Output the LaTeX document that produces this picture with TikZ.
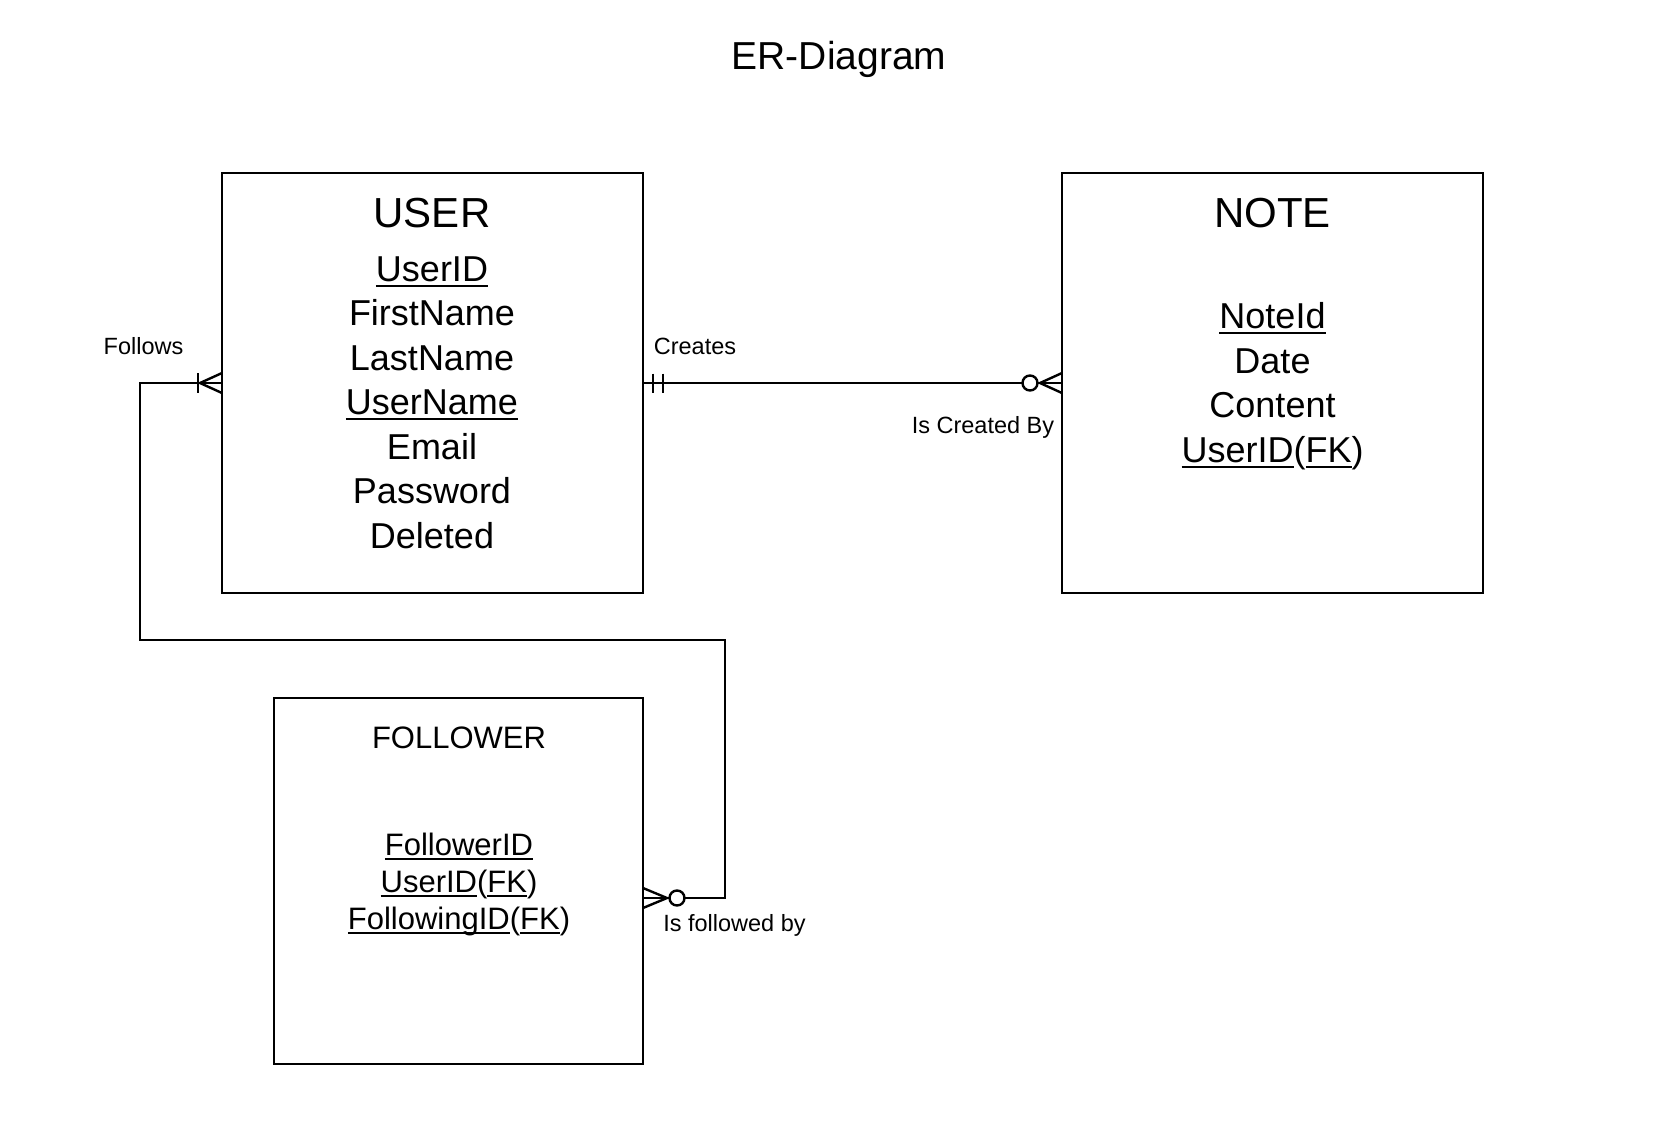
\documentclass[tikz,border=0pt]{standalone}
\usepackage{fontspec}
\setmainfont{Liberation Sans}
\newlength\myuldepth \setlength\myuldepth{3.5pt}
\newlength\myulthick \setlength\myulthick{2.1pt}
\newcommand\myul[1]{\setbox0\hbox{#1}\rlap{\rule[\dimexpr-\myuldepth-\myulthick\relax]{\wd0}{\myulthick}}\box0}
\begin{document}
\begin{tikzpicture}[x=1pt,y=-1pt,
  entity/.style={draw, line width=2.8pt, outer sep=0pt, inner sep=0pt},
  conn/.style={line width=2.4pt},
  txt/.style={anchor=base, inner sep=0pt},
  etitle/.style={txt, font=\fontsize{42}{46}\selectfont},
  attr/.style={txt, font=\fontsize{36}{40}\selectfont\setlength\myuldepth{3.5pt}\setlength\myulthick{2.2pt}},
  ftitle/.style={txt, font=\fontsize{31}{35}\selectfont},
  fattr/.style={txt, font=\fontsize{31}{35}\selectfont\setlength\myuldepth{3pt}\setlength\myulthick{2pt}},
  lbl/.style={txt, font=\fontsize{23.5}{27}\selectfont},
  ring/.style={draw, line width=2.4pt, fill=white, circle, minimum size=15pt, inner sep=0pt}
]
\useasboundingbox[fill=white] (0,0) rectangle (1674,1130);

% title
\node[txt, font=\fontsize{39}{43}\selectfont] (title) at (839,69.5) {ER-Diagram};

% entities
\node[entity, minimum width=421pt, minimum height=420pt] (user) at (432.5,383) {};
\node[entity, minimum width=421pt, minimum height=420pt] (note) at (1272.5,383) {};
\node[entity, minimum width=369pt, minimum height=366pt] (follower) at (458.5,881) {};

% USER text
\node[etitle] (utitle) at (432,227.5) {USER};
\node[attr] (u1) at (432,281) {\myul{UserID}};
\node[attr] (u2) at (432,325.5) {FirstName};
\node[attr] (u3) at (432,370) {LastName};
\node[attr] (u4) at (432,414.5) {\myul{UserName}};
\node[attr] (u5) at (432,459) {Email};
\node[attr] (u6) at (432,503.5) {Password};
\node[attr] (u7) at (432,548) {Deleted};

% NOTE text
\node[etitle] (ntitle) at (1272.5,227.5) {NOTE};
\node[attr] (n1) at (1272.5,328) {\myul{NoteId}};
\node[attr] (n2) at (1272.5,373) {Date};
\node[attr] (n3) at (1272.5,417.5) {Content};
\node[attr] (n4) at (1272.5,462.5) {\myul{UserID}(\myul{FK})};

% FOLLOWER text
\node[ftitle] (ftitle) at (459,748) {FOLLOWER};
\node[fattr] (f1) at (459,855) {\myul{FollowerID}};
\node[fattr] (f2) at (459,892) {\myul{UserID}(\myul{FK})};
\node[fattr] (f3) at (459,929) {\myul{FollowingID}(\myul{FK})};

% labels
\node[lbl] (lfollows) at (143.5,354.5) {Follows};
\node[lbl] (lcreates) at (695,354.5) {Creates};
\node[lbl] (lcreated) at (983,433.5) {Is Created By};
\node[lbl] (lfollowed) at (734.5,931.5) {Is followed by};

% Creates connector
\draw[conn] (user.east) -- (note.west);
\draw[conn] ([shift={(10,-9.5)}]user.east) -- ++(0,19);
\draw[conn] ([shift={(20,-9.5)}]user.east) -- ++(0,19);
\draw[conn] ([shift={(0,-10)}]note.west) -- ([shift={(-22,0)}]note.west) -- ([shift={(0,10)}]note.west);
\node[ring] (r1) at ([shift={(-32,0)}]note.west) {};

% Follows connector
\coordinate (fe) at ([yshift=-17pt]follower.east);
\coordinate (b1) at (140,383);
\coordinate (b2) at (140,640);
\coordinate (b3) at (725,640);
\coordinate (b4) at (725,898);
\draw[conn] (user.west) -- (b1) -- (b2) -- (b3) -- (b4) -- (fe);
\draw[conn] ([shift={(0,-10)}]user.west) -- ([shift={(-22,0)}]user.west) -- ([shift={(0,10)}]user.west);
\draw[conn] ([shift={(-24,-10)}]user.west) -- ++(0,20);
\draw[conn] ([shift={(0,-10)}]fe) -- ([shift={(24,0)}]fe) -- ([shift={(0,10)}]fe);
\node[ring] (r2) at ([shift={(34,0)}]fe) {};
\end{tikzpicture}
\end{document}
